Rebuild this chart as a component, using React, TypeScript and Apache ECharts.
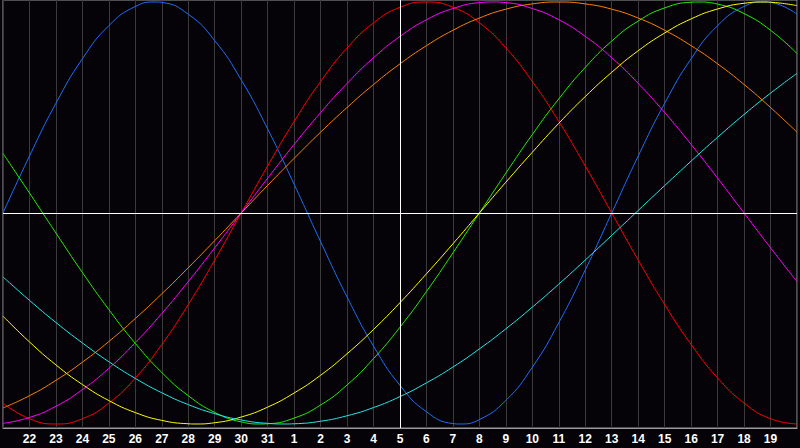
import React, { useEffect, useRef } from "react";
import * as echarts from "echarts";

// Day labels along the x axis (21 → 20 of next month), one per day index 0..30
const DAYS = [
  "21", "22", "23", "24", "25", "26", "27", "28", "29", "30", "31",
  "1", "2", "3", "4", "5", "6", "7", "8", "9", "10",
  "11", "12", "13", "14", "15", "16", "17", "18", "19", "20",
];
const TODAY_INDEX = 15; // day "5"

// Cycle values read per day (index 0..30) from the picture
const physical = [
  0, 0.27, 0.52, 0.731, 0.888, 0.979, 0.998, 0.942, 0.817, 0.631, 0.398,
  0.136, -0.136, -0.398, -0.631, -0.817, -0.942, -0.998, -0.979, -0.888, -0.731,
  -0.52, -0.27, 0, 0.27, 0.52, 0.731, 0.888, 0.979, 0.998, 0.942,
];
const emotional = [
  -0.901, -0.975, -1, -0.975, -0.901, -0.782, -0.623, -0.434, -0.223, 0, 0.223,
  0.434, 0.623, 0.782, 0.901, 0.975, 1, 0.975, 0.901, 0.782, 0.623,
  0.434, 0.223, 0, -0.223, -0.434, -0.623, -0.782, -0.901, -0.975, -1,
];
const intuitive = [
  -0.997, -0.969, -0.916, -0.837, -0.736, -0.614, -0.476, -0.325, -0.165, 0, 0.165,
  0.325, 0.476, 0.614, 0.736, 0.837, 0.916, 0.969, 0.997, 0.997, 0.969,
  0.916, 0.837, 0.736, 0.614, 0.476, 0.325, 0.165, 0, -0.165, -0.325,
];
const awareness = [
  -0.924, -0.866, -0.793, -0.707, -0.609, -0.5, -0.383, -0.259, -0.131, 0, 0.131,
  0.259, 0.383, 0.5, 0.609, 0.707, 0.793, 0.866, 0.924, 0.966, 0.991,
  1, 0.991, 0.966, 0.924, 0.866, 0.793, 0.707, 0.609, 0.5, 0.383,
];
const intellectual = [
  0.282, 0.095, -0.095, -0.282, -0.458, -0.618, -0.756, -0.866, -0.945, -0.99, -0.999,
  -0.972, -0.91, -0.815, -0.69, -0.541, -0.372, -0.189, 0, 0.189, 0.372,
  0.541, 0.69, 0.815, 0.91, 0.972, 0.999, 0.99, 0.945, 0.866, 0.756,
];
const aesthetic = [
  -0.489, -0.611, -0.72, -0.813, -0.889, -0.946, -0.983, -0.999, -0.994, -0.967, -0.92,
  -0.853, -0.769, -0.667, -0.552, -0.425, -0.288, -0.146, 0, 0.146, 0.288,
  0.425, 0.552, 0.667, 0.769, 0.853, 0.92, 0.967, 0.994, 0.999, 0.983,
];
const spiritual = [
  -0.303, -0.414, -0.519, -0.616, -0.705, -0.784, -0.852, -0.908, -0.951, -0.981, -0.997,
  -0.999, -0.987, -0.961, -0.922, -0.87, -0.805, -0.73, -0.644, -0.549, -0.446,
  -0.337, -0.223, -0.106, 0.012, 0.13, 0.246, 0.359, 0.467, 0.568, 0.662,
];

// Peaks / troughs that fall between whole days: [day index, value]
const physicalExtremes = [[5.75, 1], [17.25, -1], [28.75, 1]];
const emotionalExtremes: number[][] = [];
const intuitiveExtremes = [[18.5, 1]];
const awarenessExtremes: number[][] = [];
const intellectualExtremes = [[9.75, -1], [26.25, 1]];
const aestheticExtremes = [[7.25, -1], [28.75, 1]];
const spiritualExtremes = [[10.65, -1]];

const SERIES = [
  { name: "Physical", data: physical, extra: physicalExtremes, color: "#1E6EFF" },
  { name: "Emotional", data: emotional, extra: emotionalExtremes, color: "#FF0000" },
  { name: "Intuitive", data: intuitive, extra: intuitiveExtremes, color: "#FF00FF" },
  { name: "Awareness", data: awareness, extra: awarenessExtremes, color: "#FF8000" },
  { name: "Intellectual", data: intellectual, extra: intellectualExtremes, color: "#22EE00" },
  { name: "Aesthetic", data: aesthetic, extra: aestheticExtremes, color: "#FFFF00" },
  { name: "Spiritual", data: spiritual, extra: spiritualExtremes, color: "#22E8E8" },
];

function buildPoints(values: number[], extra: number[][]) {
  const pts = values.map((v, i) => [i, v]).concat(extra.map((p) => [p[0], p[1]]));
  pts.sort((a, b) => a[0] - b[0]);
  return pts;
}

export default function App() {
  const ref = useRef<HTMLDivElement>(null);

  useEffect(() => {
    if (!ref.current) return;
    const chart = echarts.init(ref.current, undefined, { renderer: "svg" });
    chart.setOption({
      animation: false,
      backgroundColor: "#050307",
      grid: {
        left: 0,
        right: 1,
        top: 0,
        bottom: 20,
        show: true,
        borderColor: "#9a9a9a",
        borderWidth: 1,
        backgroundColor: "transparent",
      },
      xAxis: {
        type: "value",
        min: 0,
        max: DAYS.length - 1,
        interval: 1,
        axisLine: { show: true, onZero: false, lineStyle: { color: "#9a9a9a", width: 1 } },
        axisTick: { show: false },
        splitLine: { show: true, lineStyle: { color: "#3a3a3a", width: 1 } },
        axisLabel: {
          margin: 5,
          color: "#ffffff",
          fontFamily: "Liberation Sans",
          fontWeight: "bold",
          fontSize: 12,
          formatter: (v: number) => (v <= 0 || v >= DAYS.length - 1 ? "" : DAYS[Math.round(v)]),
        },
      },
      yAxis: {
        type: "value",
        min: -1.019,
        max: 1.0095,
        axisLine: { show: false },
        axisTick: { show: false },
        axisLabel: { show: false },
        splitLine: { show: false },
      },
      series: [
        {
          type: "line",
          data: [],
          z: 1,
          silent: true,
          markLine: {
            silent: true,
            symbol: "none",
            label: { show: false },
            lineStyle: { color: "#ffffff", width: 1, type: "solid" },
            data: [{ yAxis: 0 }, { xAxis: TODAY_INDEX }],
          },
        },
        ...SERIES.map((s) => ({
          type: "line",
          name: s.name,
          data: buildPoints(s.data, s.extra),
          smooth: true,
          showSymbol: false,
          z: 3,
          lineStyle: { color: s.color, width: 1 },
          itemStyle: { color: s.color },
        })),
      ],
    });
    return () => chart.dispose();
  }, []);

  return (
    <div
      ref={ref}
      style={{ position: "fixed", left: 0, top: 0, width: 800, height: 448, background: "#050307" }}
    />
  );
}
